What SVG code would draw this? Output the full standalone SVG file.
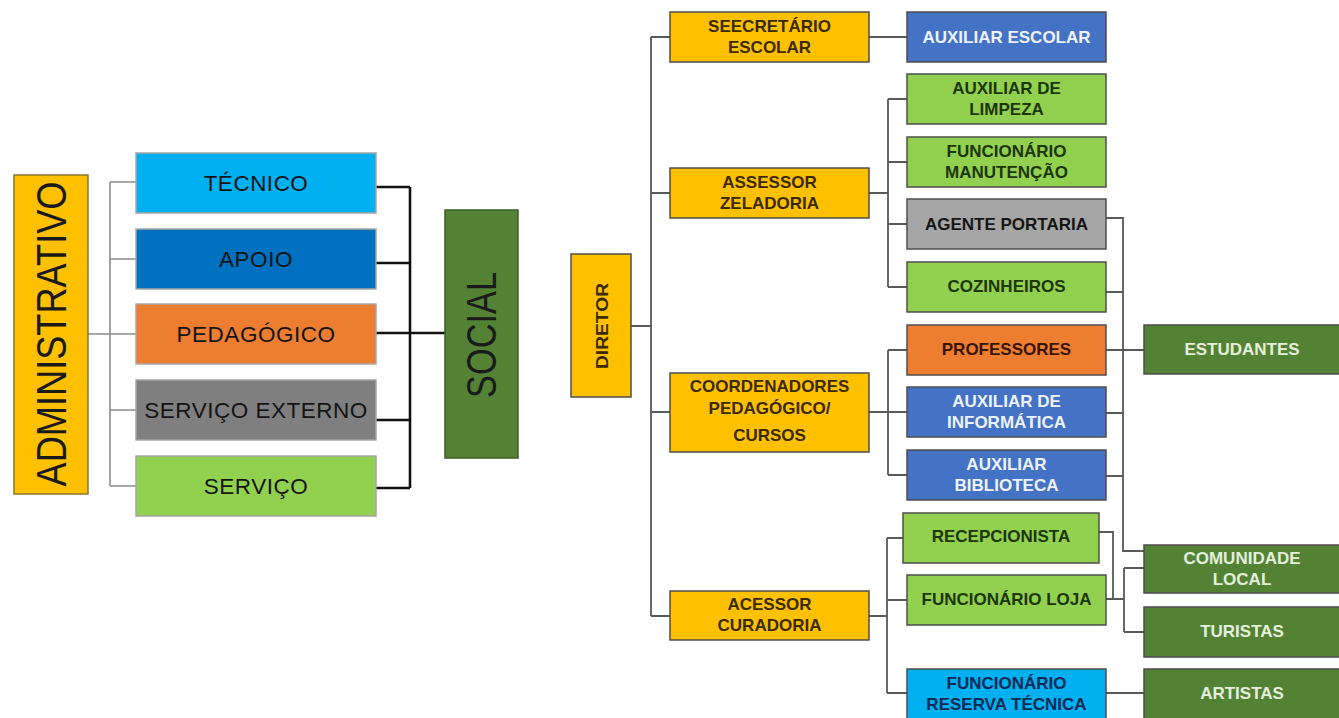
<svg xmlns="http://www.w3.org/2000/svg" width="1339" height="718" viewBox="0 0 1339 718">
<style>
.bg{fill:#ffffff}
.lbox{stroke:#a6a6a6;stroke-width:1.5}
.rbox{stroke:#4d4d4d;stroke-width:1.5}
.ltxt{font-family:"Liberation Sans",Arial,sans-serif;font-size:22.5px;letter-spacing:0.5px;text-anchor:middle;fill:#141414}
.big{font-family:"Liberation Sans",Arial,sans-serif;font-size:42px;text-anchor:middle;fill:#1a1a1a}
.rt{font-family:"Liberation Sans",Arial,sans-serif;font-size:17px;font-weight:bold;text-anchor:middle}
.yel{fill:#FFC000}
.grn{fill:#92D050}
.blu{fill:#4472C4}
.gry{fill:#A6A6A6}
.org{fill:#ED7D31}
.cyn{fill:#00B0F0}
.dgr{fill:#548235}
.t-yel{fill:#3a2a00}
.t-grn{fill:#1c360a}
.t-blu{fill:#eef2fa}
.t-gry{fill:#151515}
.t-org{fill:#3a1400}
.t-cyn{fill:#0d2a55}
.t-dgr{fill:#e4f0dc}
.cg{fill:none;stroke:#8c8c8c;stroke-width:1.6}
.cb{fill:none;stroke:#111111;stroke-width:2.6}
.cr{fill:none;stroke:#595959;stroke-width:1.8}
</style>
<rect class="bg" x="0" y="0" width="1339" height="718"/>

<g id="connectors">
  <path class="cg" d="M88,334 H110 M110,182 V486 M110,182 H136 M110,259 H136 M110,334 H136 M110,410 H136 M110,486 H136"/>
  <path class="cb" d="M376,187 H410 M376,263 H410 M376,333 H445 M376,420 H410 M376,488 H410 M410,187 V488"/>
  <path class="cr" d="M631,326 H651 M651,37 V616 M651,37 H670 M651,193 H670 M651,412 H670 M651,616 H670"/>
  <path class="cr" d="M869,37 H907"/>
  <path class="cr" d="M869,193 H888 M888,99 V287 M888,99 H907 M888,162 H907 M888,224 H907 M888,287 H907"/>
  <path class="cr" d="M869,412 H888 M888,350 V475 M888,350 H907 M888,412 H907 M888,475 H907"/>
  <path class="cr" d="M869,616 H887 M887,538 V693 M887,538 H903 M887,600 H907 M887,693 H907"/>
  <path class="cr" d="M1106,218 H1123 V551 H1144 M1106,292 H1123 M1106,413 H1123 M1106,476 H1123"/>
  <path class="cr" d="M1106,350 H1144"/>
  <path class="cr" d="M1099,532 H1113 V599 M1106,599 H1124 M1124,568 V632 M1124,568 H1144 M1124,632 H1144"/>
  <path class="cr" d="M1106,693 H1144"/>
</g>

<g id="administrativo">
  <rect class="yel" x="14" y="175" width="74" height="319" stroke="#8a7530" stroke-width="1.5"/>
  <text class="big" transform="translate(66,334) rotate(-90)" textLength="305" lengthAdjust="spacingAndGlyphs">ADMINISTRATIVO</text>
</g>
<g id="tecnico">
  <rect class="cyn lbox" x="136" y="153" width="240" height="60"/>
  <text class="ltxt" x="256" y="191">TÉCNICO</text>
</g>
<g id="apoio">
  <rect class="lbox" fill="#0070C0" x="136" y="229" width="240" height="60"/>
  <text class="ltxt" x="256" y="267">APOIO</text>
</g>
<g id="pedagogico">
  <rect class="org lbox" x="136" y="304" width="240" height="60"/>
  <text class="ltxt" x="256" y="342">PEDAGÓGICO</text>
</g>
<g id="servico-externo">
  <rect class="lbox" fill="#7F7F7F" x="136" y="380" width="240" height="60"/>
  <text class="ltxt" x="256" y="418">SERVIÇO EXTERNO</text>
</g>
<g id="servico">
  <rect class="grn lbox" x="136" y="456" width="240" height="60"/>
  <text class="ltxt" x="256" y="494">SERVIÇO</text>
</g>
<g id="social">
  <rect class="dgr" x="445" y="210" width="73" height="248" stroke="#3b5e24" stroke-width="1.5"/>
  <text class="big" transform="translate(496,335) rotate(-90)" textLength="126" lengthAdjust="spacingAndGlyphs">SOCIAL</text>
</g>

<g id="diretor">
  <rect class="yel rbox" x="571" y="254" width="60" height="143"/>
  <text class="rt t-yel" font-size="19" transform="translate(608,326) rotate(-90)" textLength="86" lengthAdjust="spacingAndGlyphs">DIRETOR</text>
</g>
<g id="secretario">
  <rect class="yel rbox" x="670" y="12" width="199" height="50"/>
  <text class="rt t-yel" x="769.5" y="32">SEECRETÁRIO</text>
  <text class="rt t-yel" x="769.5" y="53">ESCOLAR</text>
</g>
<g id="auxiliar-escolar">
  <rect class="blu rbox" x="907" y="12" width="199" height="50"/>
  <text class="rt t-blu" x="1006.5" y="43">AUXILIAR ESCOLAR</text>
</g>
<g id="assessor-zeladoria">
  <rect class="yel rbox" x="670" y="168" width="199" height="50"/>
  <text class="rt t-yel" x="769.5" y="188">ASSESSOR</text>
  <text class="rt t-yel" x="769.5" y="209">ZELADORIA</text>
</g>
<g id="auxiliar-limpeza">
  <rect class="grn rbox" x="907" y="74" width="199" height="50"/>
  <text class="rt t-grn" x="1006.5" y="94">AUXILIAR DE</text>
  <text class="rt t-grn" x="1006.5" y="115">LIMPEZA</text>
</g>
<g id="funcionario-manutencao">
  <rect class="grn rbox" x="907" y="137" width="199" height="50"/>
  <text class="rt t-grn" x="1006.5" y="157">FUNCIONÁRIO</text>
  <text class="rt t-grn" x="1006.5" y="178">MANUTENÇÃO</text>
</g>
<g id="agente-portaria">
  <rect class="gry rbox" x="907" y="199" width="199" height="50"/>
  <text class="rt t-gry" x="1006.5" y="230">AGENTE PORTARIA</text>
</g>
<g id="cozinheiros">
  <rect class="grn rbox" x="907" y="262" width="199" height="50"/>
  <text class="rt t-grn" x="1006.5" y="292">COZINHEIROS</text>
</g>
<g id="coordenadores">
  <rect class="yel rbox" x="670" y="373" width="199" height="79"/>
  <text class="rt t-yel" x="769.5" y="392">COORDENADORES</text>
  <text class="rt t-yel" x="769.5" y="414">PEDAGÓGICO/</text>
  <text class="rt t-yel" x="769.5" y="441">CURSOS</text>
</g>
<g id="professores">
  <rect class="org rbox" x="907" y="325" width="199" height="50"/>
  <text class="rt t-org" x="1006.5" y="355">PROFESSORES</text>
</g>
<g id="auxiliar-informatica">
  <rect class="blu rbox" x="907" y="387" width="199" height="50"/>
  <text class="rt t-blu" x="1006.5" y="407">AUXILIAR DE</text>
  <text class="rt t-blu" x="1006.5" y="428">INFORMÁTICA</text>
</g>
<g id="auxiliar-biblioteca">
  <rect class="blu rbox" x="907" y="450" width="199" height="50"/>
  <text class="rt t-blu" x="1006.5" y="470">AUXILIAR</text>
  <text class="rt t-blu" x="1006.5" y="491">BIBLIOTECA</text>
</g>
<g id="acessor-curadoria">
  <rect class="yel rbox" x="670" y="591" width="199" height="49"/>
  <text class="rt t-yel" x="769.5" y="610">ACESSOR</text>
  <text class="rt t-yel" x="769.5" y="631">CURADORIA</text>
</g>
<g id="recepcionista">
  <rect class="grn rbox" x="903" y="513" width="196" height="50"/>
  <text class="rt t-grn" x="1001" y="542">RECEPCIONISTA</text>
</g>
<g id="funcionario-loja">
  <rect class="grn rbox" x="907" y="575" width="199" height="50"/>
  <text class="rt t-grn" x="1006.5" y="605">FUNCIONÁRIO LOJA</text>
</g>
<g id="funcionario-reserva-tecnica">
  <rect class="cyn rbox" x="907" y="669" width="199" height="52"/>
  <text class="rt t-cyn" x="1006.5" y="689">FUNCIONÁRIO</text>
  <text class="rt t-cyn" x="1006.5" y="710">RESERVA TÉCNICA</text>
</g>
<g id="estudantes">
  <rect class="dgr rbox" x="1144" y="325" width="200" height="49"/>
  <text class="rt t-dgr" x="1242" y="355">ESTUDANTES</text>
</g>
<g id="comunidade-local">
  <rect class="dgr rbox" x="1144" y="545" width="200" height="48"/>
  <text class="rt t-dgr" x="1242" y="564">COMUNIDADE</text>
  <text class="rt t-dgr" x="1242" y="585">LOCAL</text>
</g>
<g id="turistas">
  <rect class="dgr rbox" x="1144" y="607" width="200" height="50"/>
  <text class="rt t-dgr" x="1242" y="637">TURISTAS</text>
</g>
<g id="artistas">
  <rect class="dgr rbox" x="1144" y="669" width="200" height="52"/>
  <text class="rt t-dgr" x="1242" y="699">ARTISTAS</text>
</g>
</svg>
